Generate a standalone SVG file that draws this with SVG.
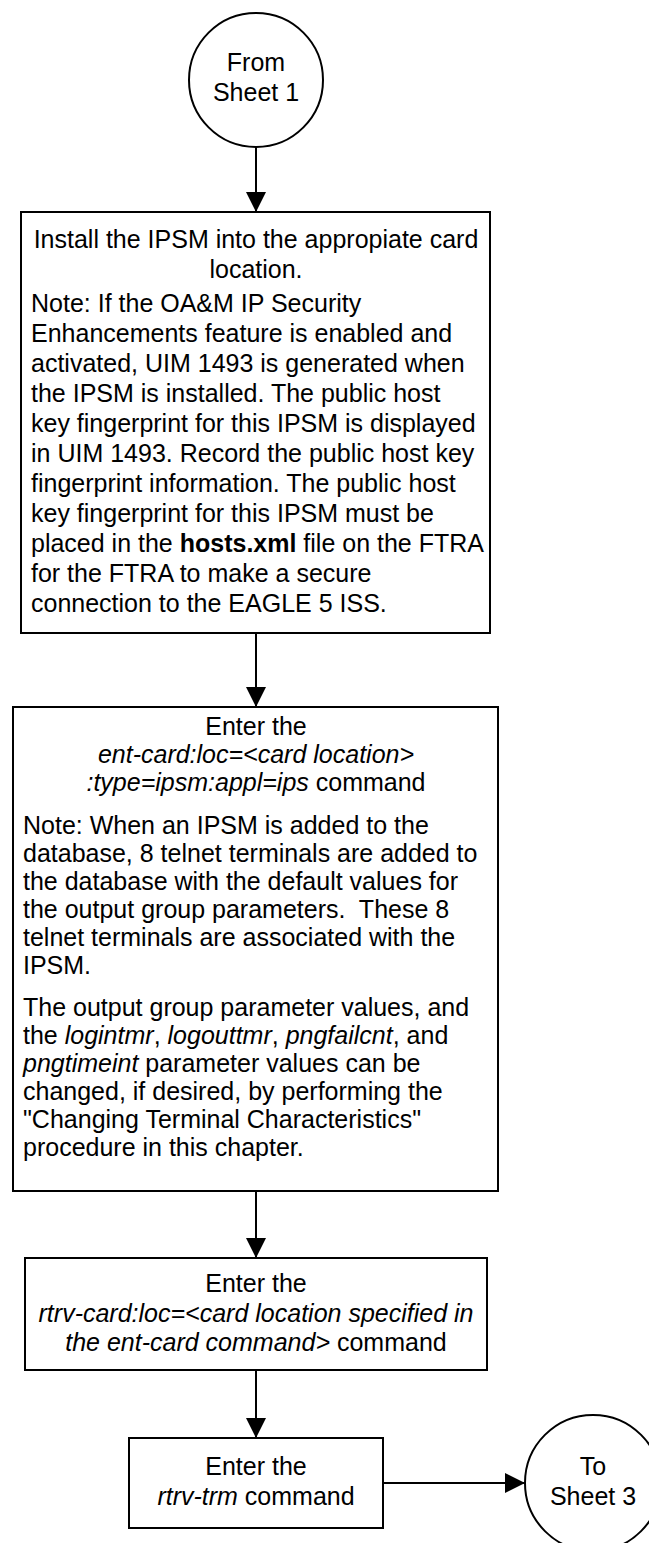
<svg xmlns="http://www.w3.org/2000/svg" width="649" height="1543" viewBox="0 0 649 1543">
<style>
text{font-family:"Liberation Sans",Arial,sans-serif;font-size:25px;fill:#000}
.c{text-anchor:middle}
.i{font-style:italic}
.b{font-weight:bold}
.n{fill:#fff;stroke:#000;stroke-width:2}
.e{stroke:#000;stroke-width:2;fill:none}
</style>
<defs>
<marker id="a" viewBox="0 0 20 20" refX="20" refY="10" markerWidth="20" markerHeight="20" markerUnits="userSpaceOnUse" orient="auto">
<path d="M0,0L20,10L0,20z" fill="#000"/>
</marker>
</defs>
<rect width="649" height="1543" fill="#fff"/>
<g id="connectors">
<line class="e" x1="256" y1="147" x2="256" y2="212" marker-end="url(#a)"/>
<line class="e" x1="256" y1="633" x2="256" y2="707" marker-end="url(#a)"/>
<line class="e" x1="256" y1="1191" x2="256" y2="1258" marker-end="url(#a)"/>
<line class="e" x1="256" y1="1370" x2="256" y2="1438" marker-end="url(#a)"/>
<line class="e" x1="383" y1="1483" x2="525" y2="1483" marker-end="url(#a)"/>
</g>
<g id="start">
<circle class="n" cx="256" cy="80" r="67"/>
<text class="c" x="256" y="71">From</text>
<text class="c" x="256" y="101">Sheet 1</text>
</g>
<g id="install">
<rect class="n" x="21" y="212" width="469" height="421"/>
<text class="c" x="256" y="248">Install the IPSM into the appropiate card</text>
<text class="c" x="256" y="278">location.</text>
<text x="31" y="312">Note: If the OA&amp;M IP Security</text>
<text x="31" y="342">Enhancements feature is enabled and</text>
<text x="31" y="372">activated, UIM 1493 is generated when</text>
<text x="31" y="402">the IPSM is installed. The public host</text>
<text x="31" y="432">key fingerprint for this IPSM is displayed</text>
<text x="31" y="462">in UIM 1493. Record the public host key</text>
<text x="31" y="492">fingerprint information. The public host</text>
<text x="31" y="522">key fingerprint for this IPSM must be</text>
<text x="31" y="552">placed in the <tspan class="b">hosts.xml</tspan> file on the FTRA</text>
<text x="31" y="582">for the FTRA to make a secure</text>
<text x="31" y="612">connection to the EAGLE 5 ISS.</text>
</g>
<g id="entcard">
<rect class="n" x="13" y="707" width="485" height="484"/>
<text class="c" x="256" y="735">Enter the</text>
<text class="c i" x="256" y="763">ent-card:loc=&lt;card location&gt;</text>
<text class="c" x="256" y="791"><tspan class="i">:type=ipsm:appl=ips</tspan> command</text>
<text x="23" y="834">Note: When an IPSM is added to the</text>
<text x="23" y="862">database, 8 telnet terminals are added to</text>
<text x="23" y="890">the database with the default values for</text>
<text x="23" y="918">the output group parameters.&#160; These 8</text>
<text x="23" y="946">telnet terminals are associated with the</text>
<text x="23" y="974">IPSM.</text>
<text x="23" y="1016">The output group parameter values, and</text>
<text x="23" y="1044">the <tspan class="i">logintmr</tspan>, <tspan class="i">logouttmr</tspan>, <tspan class="i">pngfailcnt</tspan>, and</text>
<text x="23" y="1072"><tspan class="i">pngtimeint</tspan> parameter values can be</text>
<text x="23" y="1100">changed, if desired, by performing the</text>
<text x="23" y="1128">"Changing Terminal Characteristics"</text>
<text x="23" y="1156">procedure in this chapter.</text>
</g>
<g id="rtrvcard">
<rect class="n" x="25" y="1258" width="462" height="112"/>
<text class="c" x="256" y="1292">Enter the</text>
<text class="c i" x="256" y="1322">rtrv-card:loc=&lt;card location specified in</text>
<text class="c" x="256" y="1351"><tspan class="i">the ent-card command&gt;</tspan> command</text>
</g>
<g id="rtrvtrm">
<rect class="n" x="129" y="1438" width="254" height="90"/>
<text class="c" x="256" y="1475">Enter the</text>
<text class="c" x="256" y="1505"><tspan class="i">rtrv-trm</tspan> command</text>
</g>
<g id="end">
<circle class="n" cx="593" cy="1483" r="68"/>
<text class="c" x="593" y="1475">To</text>
<text class="c" x="593" y="1505">Sheet 3</text>
</g>
</svg>
